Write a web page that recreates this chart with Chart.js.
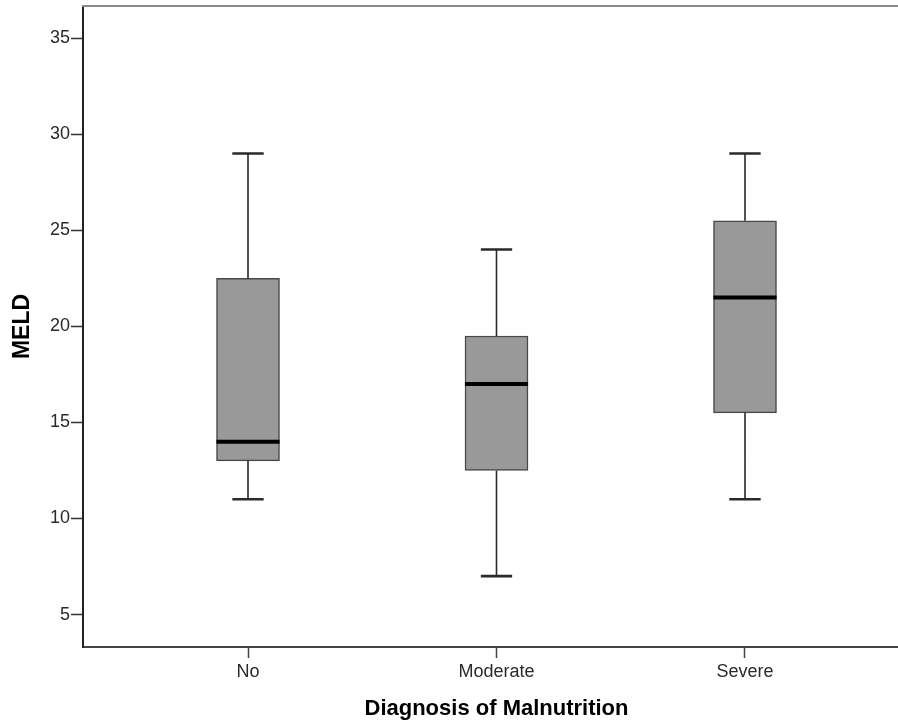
<!DOCTYPE html>
<html>
<head>
<meta charset="utf-8">
<script src="https://cdn.jsdelivr.net/npm/chart.js@4/dist/chart.umd.min.js"></script>
<style>
  html, body { margin: 0; padding: 0; background: #fff; overflow: hidden; }
  #wrap { position: relative; width: 910px; height: 725px; }
</style>
</head>
<body>
<div id="wrap"><canvas id="box"></canvas></div>
<script>
// --- Data ---
const categories = ['No', 'Moderate', 'Severe'];
const whiskerLow = [11, 7, 11];
const q1 = [13, 12.5, 15.5];
const median = [14, 17, 21.5];
const q3 = [22.5, 19.5, 25.5];
const whiskerHigh = [29, 24, 29];
const yTicks = [5, 10, 15, 20, 25, 30, 35];

const FONT = '"Liberation Sans", Arial, sans-serif';
const BOX_HALF = 0.127;   // half box width in x units
const CAP_HALF = 0.063;   // half whisker cap width in x units

// --- Build the box parts from the arrays ---
const boxData = categories.map((c, i) => ({ x: i + 1, y: [q1[i], q3[i]] }));

const stemData = [];
const capData = [];
const medianData = [];
categories.forEach((c, i) => {
  const x = i + 1;
  stemData.push({ x, y: q1[i] }, { x, y: whiskerLow[i] }, { x, y: null });
  stemData.push({ x, y: q3[i] }, { x, y: whiskerHigh[i] }, { x, y: null });
  capData.push({ x: x - CAP_HALF, y: whiskerLow[i] }, { x: x + CAP_HALF, y: whiskerLow[i] }, { x, y: null });
  capData.push({ x: x - CAP_HALF, y: whiskerHigh[i] }, { x: x + CAP_HALF, y: whiskerHigh[i] }, { x, y: null });
  medianData.push({ x: x - BOX_HALF, y: median[i] }, { x: x + BOX_HALF, y: median[i] }, { x, y: null });
});

new Chart(document.getElementById('box').getContext('2d'), {
  data: {
    datasets: [
      { type: 'bar', data: boxData, backgroundColor: '#999999', borderColor: '#484848',
        borderWidth: 1.5, borderSkipped: false, barThickness: 63, order: 4 },
      { type: 'line', data: stemData, borderColor: '#2a2a2a', borderWidth: 1.6,
        pointRadius: 0, spanGaps: false, order: 3 },
      { type: 'line', data: capData, borderColor: '#2a2a2a', borderWidth: 2.6,
        pointRadius: 0, spanGaps: false, order: 2 },
      { type: 'line', data: medianData, borderColor: '#000000', borderWidth: 4,
        pointRadius: 0, spanGaps: false, order: 1 }
    ]
  },
  options: {
    responsive: true,
    maintainAspectRatio: false,
    animation: false,
    layout: { padding: 0 },
    plugins: { legend: { display: false }, tooltip: { enabled: false } },
    scales: {
      x: {
        type: 'linear', position: 'bottom', min: 0.336, max: 3.664, offset: false,
        afterBuildTicks: s => { s.ticks = categories.map((c, i) => ({ value: i + 1 })); },
        afterFit: s => { s.height = 78; s.paddingLeft = 0; s.paddingRight = 0; },
        ticks: { callback: v => categories[v - 1], color: '#2a2a2a', padding: 3,
          font: { family: FONT, size: 18 }, maxRotation: 0 },
        grid: { offset: false, drawOnChartArea: false, drawTicks: true, tickLength: 11, tickColor: '#444', tickWidth: 1.5 },
        border: { color: '#444', width: 2 },
        title: { display: true, text: 'Diagnosis of Malnutrition', color: '#000',
          font: { family: FONT, size: 22, weight: 'bold' }, padding: { top: 0, bottom: 3 } }
      },
      y: {
        type: 'linear', position: 'left', min: 3.31, max: 36.68,
        afterBuildTicks: s => { s.ticks = yTicks.map(v => ({ value: v })); },
        afterFit: s => { s.width = 83; s.paddingTop = 0; s.paddingBottom = 0; },
        ticks: { color: '#2a2a2a', padding: 1, font: { family: FONT, size: 18 } },
        grid: { drawOnChartArea: false, drawTicks: true, tickLength: 12, tickColor: '#333', tickWidth: 1.5 },
        border: { color: '#222', width: 2 },
        title: { display: true, text: 'MELD', color: '#000',
          font: { family: FONT, size: 23, weight: 'bold' }, padding: { top: 9, bottom: 0 } }
      },
      top: {
        type: 'linear', position: 'top', min: 0, max: 1,
        afterFit: s => { s.height = 6; },
        ticks: { display: false },
        grid: { drawOnChartArea: false, drawTicks: false },
        border: { color: '#888', width: 2 }
      }
    }
  }
});
</script>
</body>
</html>
